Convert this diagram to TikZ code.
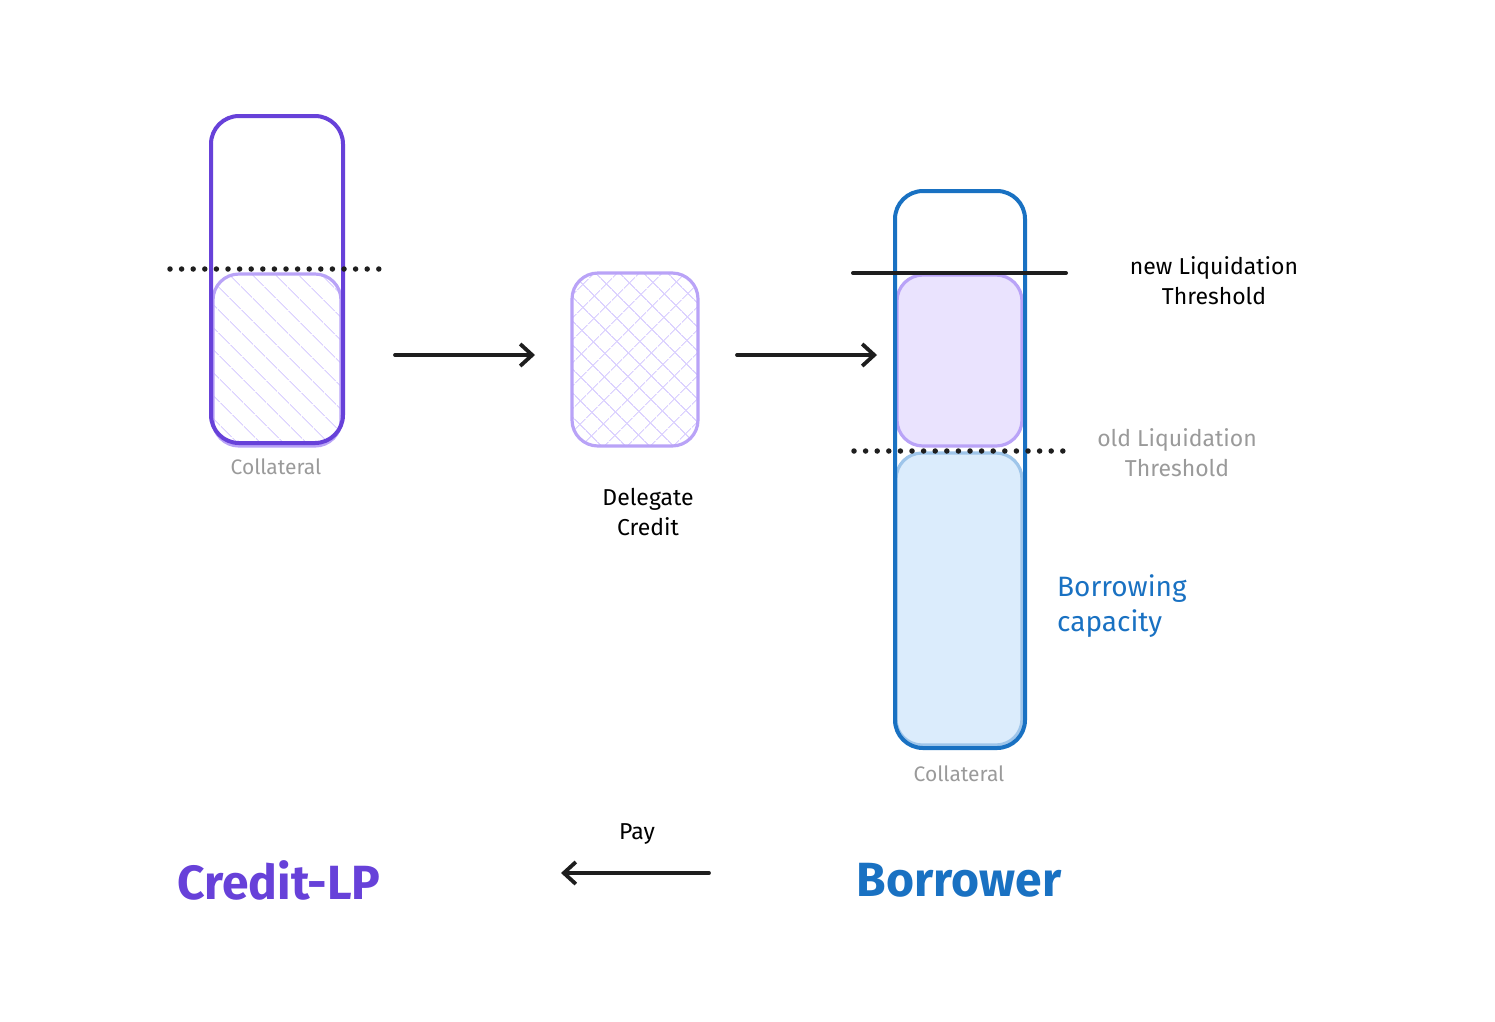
\documentclass[tikz,border=0pt]{standalone}
\usepackage{fontspec}
\setmainfont{Fira Sans}
\usetikzlibrary{arrows.meta,patterns.meta}
\definecolor{violet}{HTML}{6741D9}
\definecolor{lviolet}{HTML}{B9A3F7}
\definecolor{hatchv}{HTML}{DCD2FF}
\definecolor{fillv}{HTML}{EAE3FE}
\definecolor{bblue}{HTML}{1971C2}
\definecolor{lblue}{HTML}{9EC5EA}
\definecolor{fillb}{HTML}{DBECFC}
\definecolor{txtgray}{HTML}{9A9A9A}
\definecolor{ink}{HTML}{1E1E1E}
\tikzset{
  box/.style={draw, rounded corners=28pt, inner sep=0pt},
  outerv/.style={box, draw=violet, line width=4pt},
  outerb/.style={box, draw=bblue, line width=4pt},
  innerbox/.style={box, rounded corners=26pt, line width=3.2pt},
  dotline/.style={ink, line width=5.5pt, line cap=round, dash pattern=on 0pt off 11.6pt},
  solidline/.style={ink, line width=4pt, line cap=round},
  flow/.style={ink, line width=3.8pt, line cap=round, -{Straight Barb[length=12pt,width=22pt,line width=3.8pt]}},
  lbl/.style={font=\fontsize{21}{25}\selectfont, text=txtgray, inner sep=0pt},
  note/.style={font=\fontsize{23}{30}\selectfont, align=center, inner sep=0pt},
  title/.style={font=\fontsize{48}{54}\selectfont\bfseries, inner sep=0pt}
}
\begin{document}
\begin{tikzpicture}[x=1pt,y=-1pt]
\useasboundingbox (0,0) rectangle (1495,1021);
% left (Credit-LP)
\node[innerbox, draw=lviolet, pattern={Lines[angle=-45,distance=17pt,line width=1.2pt]}, pattern color=hatchv,
      minimum width=128pt, minimum height=172pt] (lhatch) at (277,360) {};
\node[outerv, minimum width=132pt, minimum height=327pt] (lcol) at (277,279.5) {};
\coordinate (ld1) at (170,269);
\coordinate (ld2) at (380,269);
\draw[dotline] (ld1) -- (ld2);
\node[lbl] (lcoltxt) at (276,467) {Collateral};
% middle
\node[innerbox, draw=lviolet, pattern={Hatch[angle=45,distance=17pt,line width=1.2pt]}, pattern color=hatchv,
      minimum width=126pt, minimum height=173pt] (mid) at (635,359.5) {};
\node[note] (deleg) at (648,512) {Delegate\\Credit};
% right (Borrower)
\node[innerbox, draw=lviolet, fill=fillv, minimum width=125pt, minimum height=171pt] (rpurple) at (959.5,360.5) {};
\node[innerbox, draw=lblue, fill=fillb, minimum width=126pt, minimum height=292pt] (rblue) at (959,599) {};
\node[outerb, minimum width=130pt, minimum height=557pt] (rcol) at (960,469.5) {};
\coordinate (nl1) at (853,273);
\coordinate (nl2) at (1066,273);
\draw[solidline] (nl1) -- (nl2);
\coordinate (ol1) at (854,451);
\coordinate (ol2) at (1064,451);
\draw[dotline] (ol1) -- (ol2);
\node[note] (newlt) at (1214,281) {new Liquidation\\Threshold};
\node[note, text=txtgray] (oldlt) at (1177,453) {old Liquidation\\Threshold};
\node[note, text=bblue, align=left, anchor=west, font=\fontsize{28}{35}\selectfont] (borcap) at (1057,606) {Borrowing\\capacity};
\node[lbl] (rcoltxt) at (959,774) {Collateral};
% arrows
\coordinate (a1s) at (395,355);
\coordinate (a1e) at (535,355);
\draw[flow] (a1s) -- (a1e);
\coordinate (a2s) at (737,355);
\coordinate (a2e) at (877,355);
\draw[flow] (a2s) -- (a2e);
% bottom
\node[title, text=violet] (clp) at (279,880) {Credit-LP};
\node[title, text=bblue] (borr) at (959,880) {Borrower};
\coordinate (p1) at (709,873);
\coordinate (p2) at (561,873);
\draw[flow] (p1) -- (p2);
\node[note] (pay) at (637,834) {Pay};
\end{tikzpicture}
\end{document}
